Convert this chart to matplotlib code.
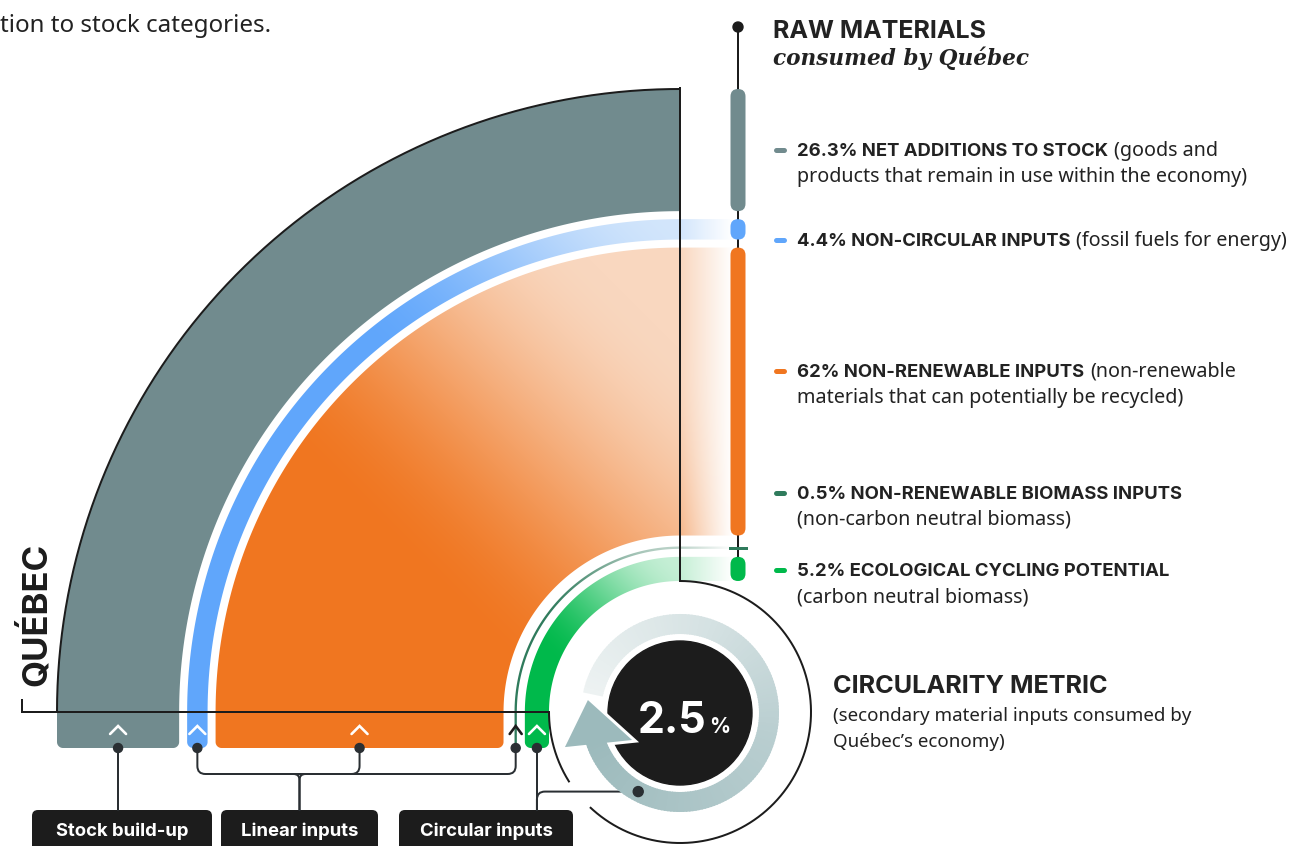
import numpy as np
import matplotlib
matplotlib.use("Agg")
import matplotlib.pyplot as plt
from matplotlib.path import Path
from matplotlib.patches import PathPatch, Circle, Polygon, FancyBboxPatch, Wedge
from matplotlib.colors import to_rgb

W, H = 1301, 846
PT = 0.72  # points per pixel at 100 dpi

# raw material shares, listed from the centre of the arc outwards
band_values = [5.2, 0.5, 62.0, 4.4, 26.3]
band_titles = ["ECOLOGICAL CYCLING POTENTIAL", "NON-RENEWABLE BIOMASS INPUTS",
               "NON-RENEWABLE INPUTS", "NON-CIRCULAR INPUTS", "NET ADDITIONS TO STOCK"]
band_inline = ["", "", "(non-renewable", "(fossil fuels for energy)", "(goods and"]
band_second = ["(carbon neutral biomass)", "(non-carbon neutral biomass)",
               "materials that can potentially be recycled)", "",
               "products that remain in use within the economy)"]
band_colors = ["#00b94b", "#2f7b5c", "#f07620", "#60a6fb", "#718b8e"]
band_fades = ["#c6efd6", "#bcd3c9", "#f9d7bf", "#d3e6fc", None]
circularity = 2.5

group_names = ["Stock build-up", "Linear inputs", "Circular inputs"]

DARK = "#1c1c1c"
LINE = "#2a2f33"
TXT = "#222222"
BOLD = "Inter"
BODY = "Noto Sans"

CX, CY = 680, 712          # centre of the quarter arcs
R0, R1 = 131, 623          # innermost / outermost radius
GAPS = [8, 11, 8, 8]
LEG_Y = 748                # bottom of the vertical legs
EXT = 55                   # horizontal run past the arc on the right
COL_X = 738

fig = plt.figure(figsize=(W / 100, H / 100), dpi=100)
ax = fig.add_axes([0, 0, 1, 1])
ax.axis("off")
renderer = fig.canvas.get_renderer()

# radii scaled so the bands fill the arc
k = (R1 - R0 - sum(GAPS)) / sum(band_values)
radii = []
r = R0
for i, v in enumerate(band_values):
    radii.append((r, r + v * k))
    r = r + v * k + (GAPS[i] if i < len(GAPS) else 0)
centres = [CX - (a + b) / 2 for a, b in radii]


def band_path(ri, ro, ext):
    th = np.linspace(np.pi, 1.5 * np.pi, 240)
    pts = list(zip(CX + ro * np.cos(th), CY + ro * np.sin(th)))
    if ext:
        pts += [(CX + ext, CY - ro), (CX + ext, CY - ri)]
    pts += list(zip(CX + ri * np.cos(th[::-1]), CY + ri * np.sin(th[::-1])))
    c = min(6, (ro - ri) / 2)
    xr, xl = CX - ri, CX - ro
    a = np.linspace(0, np.pi / 2, 12)
    pts += list(zip(xr - c + c * np.cos(a), LEG_Y - c + c * np.sin(a)))
    a = np.linspace(np.pi / 2, np.pi, 12)
    pts += list(zip(xl + c + c * np.cos(a), LEG_Y - c + c * np.sin(a)))
    pts.append(pts[0])
    return Path(pts, closed=True)


def gradient_band(path, col, fade, s0, s1):
    patch = PathPatch(path, fc="none", ec="none")
    ax.add_patch(patch)
    bb = path.get_extents()
    xs = np.arange(np.floor(bb.x0) - 2, np.ceil(bb.x1) + 3)
    ys = np.arange(np.floor(bb.y0) - 2, np.ceil(bb.y1) + 3)
    X, Y = np.meshgrid(xs, ys)
    t = np.clip((X - Y - s0) / (s1 - s0), 0, 1)
    t = (t * t * (3 - 2 * t))[..., None]
    rgb = np.array(to_rgb(col)) * (1 - t) + np.array(to_rgb(fade)) * t
    f = np.clip((X - CX) / (EXT - 3), 0, 1)[..., None]
    rgb = rgb * (1 - f) + f
    im = ax.imshow(rgb, extent=(xs[0] - .5, xs[-1] + .5, ys[0] - .5, ys[-1] + .5),
                   origin="lower", interpolation="bilinear", aspect="auto", zorder=1)
    im.set_clip_path(patch)


fade_ranges = [(-110, 120), (-80, 140), (-160, 330), (20, 460), None]
for (ri, ro), col, fade, fr in zip(radii, band_colors, band_fades, fade_ranges):
    if fade is None:
        ax.add_patch(PathPatch(band_path(ri, ro, 0), fc=col, ec="none", zorder=1))
    else:
        gradient_band(band_path(ri, ro, EXT), col, fade, *fr)

# outline around the whole figure
lw = 2 * PT
th = np.radians(np.linspace(180, 270, 300))
ax.plot(CX + R1 * np.cos(th), CY + R1 * np.sin(th), color=DARK, lw=lw, zorder=3)
ax.plot([CX, CX], [CY - R1 - 1, CY - R0], color=DARK, lw=lw, zorder=3)
for a0, a1 in [(-90, 133), (148, 180)]:
    th = np.radians(np.linspace(a0, a1, 300))
    ax.plot(CX + R0 * np.cos(th), CY + R0 * np.sin(th), color=DARK, lw=lw, zorder=3)
ax.plot([22, 22, CX - R0], [700, CY, CY], color=DARK, lw=lw, zorder=3,
        solid_joinstyle="miter")

# raw materials column on the right
ax.plot([COL_X, COL_X], [27, CY - radii[0][1] + 6], color=DARK, lw=lw, zorder=3)
ax.add_patch(Circle((COL_X, 27), 5, color=DARK, zorder=4))
for (ri, ro), col in zip(radii, band_colors):
    top, bot = CY - ro, CY - ri
    if bot - top < 6:
        ax.plot([COL_X - 8, COL_X + 8], [(top + bot) / 2] * 2, color=col,
                lw=3 * PT, zorder=4)
    else:
        h = max(bot - top, 15)
        ym = (top + bot) / 2
        ax.add_patch(FancyBboxPatch((COL_X - 7.5, ym - h / 2), 15, h,
                                    boxstyle="round,pad=0,rounding_size=7.5",
                                    fc=col, ec="none", zorder=4))

# legend text
baselines = [576, 499, 377, 246, 156]
for v, title, inline, second, col, yb in zip(band_values, band_titles, band_inline,
                                              band_second, band_colors, baselines):
    ax.plot([776, 784], [yb - 6, yb - 6], color=col, lw=5 * PT,
            solid_capstyle="round", zorder=4)
    t = ax.text(797, yb, f"{v:g}% {title}", fontsize=13.3, family=BOLD,
                fontweight="bold", color=TXT, va="baseline", ha="left")
    if inline:
        w = t.get_window_extent(renderer).width
        ax.text(797 + w + 6, yb, inline, fontsize=14.2, family=BODY, color=TXT,
                va="baseline", ha="left")
    if second:
        ax.text(797, yb + 26, second, fontsize=14.2, family=BODY, color=TXT,
                va="baseline", ha="left")

ax.text(773, 38, "RAW MATERIALS", fontsize=18, family=BOLD, fontweight="bold",
        color=TXT, va="baseline")
ax.text(773, 65, "consumed by Québec", fontsize=15.6, family="DejaVu Serif",
        fontweight="bold", style="italic", color=TXT, va="baseline")

ax.text(833, 693, "CIRCULARITY METRIC", fontsize=18.2, family=BOLD, fontweight="bold",
        color=TXT, va="baseline")
ax.text(833, 721, "(secondary material inputs consumed by", fontsize=13.5, family=BODY,
        color=TXT, va="baseline")
ax.text(833, 747, "Québec’s economy)", fontsize=13.5, family=BODY, color=TXT,
        va="baseline")

ax.text(0, 32, "tion to stock categories.", fontsize=17.4, family=BODY, color=TXT,
        va="baseline")
ax.text(36, 614, "QUÉBEC", fontsize=25, family=BOLD, fontweight="bold", color=DARK,
        rotation=90, ha="center", va="center")

# chevrons and dots at the foot of each band
for i, ((ri, ro), xc) in enumerate(zip(radii, centres)):
    hw = min(8, max((ro - ri) / 2 - 1.5, 6))
    ccol = DARK if (ro - ri) < 6 else "white"
    ax.plot([xc - hw, xc, xc + hw], [734, 726, 734], color=ccol, lw=2.6 * PT,
            solid_capstyle="round", solid_joinstyle="miter", zorder=5)
    ax.add_patch(Circle((xc, LEG_Y), 4.5, color=LINE, zorder=6))


def rounded(points, rad=8):
    pts = np.asarray(points, float)
    verts, codes = [pts[0]], [Path.MOVETO]
    for i in range(1, len(pts) - 1):
        p0, p1, p2 = pts[i - 1], pts[i], pts[i + 1]
        d1 = (p0 - p1) / np.linalg.norm(p0 - p1)
        d2 = (p2 - p1) / np.linalg.norm(p2 - p1)
        verts += [p1 + d1 * rad, p1, p1 + d2 * rad]
        codes += [Path.LINETO, Path.CURVE3, Path.CURVE3]
    verts.append(pts[-1])
    codes.append(Path.LINETO)
    ax.add_patch(PathPatch(Path(verts, codes), fc="none", ec=LINE, lw=2 * PT,
                           capstyle="round", zorder=5))


# ring arrow around the circularity metric
RC = (680, 713)
ring_in, ring_out, disk_r = 79, 99, 72
ring_a0, ring_a1 = 192, 163 + 360
stops_u = [0, 0.3, 0.55, 1]
stops_c = [to_rgb(c) for c in ["#edf2f2", "#d4e1e2", "#b9ced0", "#9cbabc"]]


def ring_color(u):
    return tuple(np.interp(u, stops_u, [c[j] for c in stops_c]) for j in range(3))


ax.add_patch(Circle(RC, disk_r, color=DARK, zorder=6))


def polar(a, rr):
    a = np.radians(a)
    return (RC[0] + rr * np.cos(a), RC[1] + rr * np.sin(a))


head = [polar(188, 93), polar(163.5, 120), polar(150.6, 55)]
ax.add_patch(Polygon(head, closed=True, fc=stops_c[-1], ec="white", lw=6 * PT,
                     joinstyle="miter", zorder=7))
n = 180
angs = np.linspace(ring_a0, ring_a1, n + 1)
for i in range(n):
    ax.add_patch(Wedge(RC, ring_out, angs[i] % 360, (angs[i + 1] + 0.8) % 360,
                       width=ring_out - ring_in, fc=ring_color(i / (n - 1)),
                       ec="none", zorder=8))
ax.add_patch(Polygon(head, closed=True, fc=stops_c[-1], ec="none", zorder=8))

ax.text(706, 733, f"{circularity:g}", fontsize=31, family=BOLD, fontweight="bold",
        color="white", ha="right", va="baseline", zorder=9)
ax.text(709, 733, "%", fontsize=15, family=BOLD, fontweight="bold",
        color="white", ha="left", va="baseline", zorder=9)

# group labels and their connectors
boxes = [(32, 212), (221, 378), (399, 573)]
for (x0, x1), name in zip(boxes, group_names):
    ax.add_patch(FancyBboxPatch((x0, 810), x1 - x0, 60,
                                boxstyle="round,pad=0,rounding_size=6",
                                fc=DARK, ec="none", zorder=5))
    ax.text((x0 + x1) / 2, 831, name, fontsize=13.3, family=BOLD, fontweight="bold",
            color="white", ha="center", va="center", zorder=6)

BUS = 774
rounded([(centres[4], LEG_Y), (centres[4], 810)])
rounded([(centres[3], LEG_Y), (centres[3], BUS), (centres[1], BUS), (centres[1], LEG_Y)])
rounded([(centres[2], LEG_Y), (centres[2], BUS), (centres[2] - 20, BUS)])
mid = (boxes[1][0] + boxes[1][1]) / 2
rounded([(mid - 12, BUS), (mid, BUS), (mid, 810)], 6)
rounded([(mid + 12, BUS), (mid, BUS), (mid, 810)], 6)
dot = polar(118, (ring_in + ring_out) / 2)
rounded([(centres[0], LEG_Y), (centres[0], 810)])
rounded([(centres[0], 810), (centres[0], dot[1]), dot])
ax.add_patch(Circle(dot, 5, color=LINE, zorder=9))

ax.set_xlim(0, W)
ax.set_ylim(H, 0)
fig.savefig("out.png", dpi=100)
